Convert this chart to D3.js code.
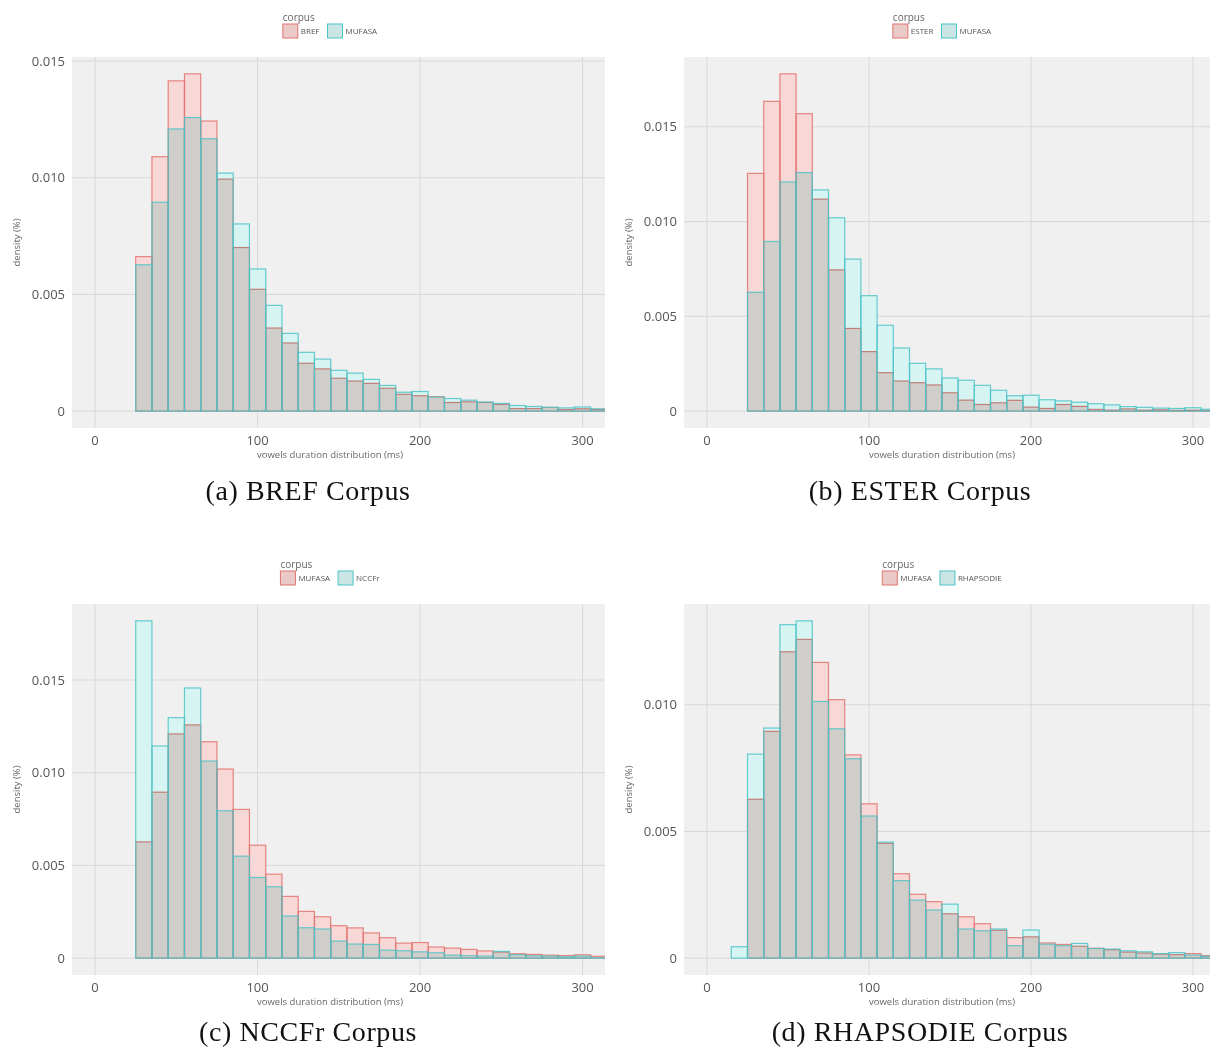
<!DOCTYPE html>
<html>
<head>
<meta charset="utf-8">
<script src="https://cdn.jsdelivr.net/npm/d3@7"></script>
<style>
  body { margin: 0; background: #fff; }
  svg text { font-family: "Open Sans", sans-serif; }
  .bar-fill { mix-blend-mode: multiply; }
</style>
</head>
<body>
<svg id="fig" width="1210" height="1053"></svg>
<script>
// histogram bins (ms), 10 ms wide
var binStarts = [15, 25, 35, 45, 55, 65, 75, 85, 95, 105, 115, 125, 135, 145, 155,
                 165, 175, 185, 195, 205, 215, 225, 235, 245, 255, 265, 275, 285, 295, 305];
var binWidth = 10;

// densities
var mufasa = [0, 0.00627, 0.00895, 0.01209, 0.01258, 0.01167, 0.0102, 0.00802, 0.00609, 0.00453,
              0.00333, 0.00252, 0.00223, 0.00175, 0.00163, 0.00136, 0.0011, 0.00081, 0.00084, 0.0006,
              0.00054, 0.00047, 0.00039, 0.00033, 0.00024, 0.0002, 0.00016, 0.00014, 0.00018, 0.0001];
var bref = [0, 0.00662, 0.0109, 0.01415, 0.01445, 0.01243, 0.00994, 0.00701, 0.00522, 0.00356,
            0.00292, 0.00205, 0.00181, 0.00141, 0.00129, 0.00119, 0.00098, 0.00072, 0.00066, 0.00062,
            0.00037, 0.0004, 0.00037, 0.00029, 0.00011, 0.00011, 0.00016, 0.00007, 0.0001, 0.00007];
var ester = [0, 0.01254, 0.01634, 0.01779, 0.01569, 0.01118, 0.00745, 0.00436, 0.00314, 0.00203,
             0.00159, 0.0015, 0.00138, 0.00097, 0.00058, 0.00035, 0.00044, 0.00057, 0.00021, 0.00014,
             0.00035, 0.00025, 0.00009, 0.00005, 0.00012, 0.00005, 0.00007, 0.00004, 0.00005, 0.00003];
var nccfr = [0, 0.01819, 0.01144, 0.01297, 0.01457, 0.01063, 0.00795, 0.0055, 0.00435, 0.00385,
             0.00227, 0.00164, 0.00157, 0.00092, 0.00076, 0.00074, 0.00043, 0.0004, 0.00034, 0.00029,
             0.00016, 0.00013, 0.00011, 0.00036, 0.00018, 0.00013, 0.00011, 0.00007, 0.00011, 0.00002];
var rhapsodie = [0.00045, 0.00805, 0.00908, 0.01316, 0.01331, 0.01013, 0.00905, 0.00787, 0.00561, 0.00458,
                 0.00306, 0.00229, 0.0019, 0.00213, 0.00115, 0.00108, 0.00115, 0.00049, 0.00111, 0.00055,
                 0.00049, 0.00058, 0.00038, 0.00036, 0.00029, 0.00025, 0.00018, 0.00022, 0.00012, 0.00007];

var xTicks = [0, 100, 200, 300];
var yTicks3 = [0, 0.005, 0.010, 0.015];
var yTicks2 = [0, 0.005, 0.010];

// fills are multiplied over the grey panel, so overlaps turn grey
var redFill = "rgb(248,216,214)", redStroke = "#E2736E";
var cyanFill = "rgb(214,244,242)", cyanStroke = "#4DC3C7";

var panels = [
  {ox: 0,   oy: 0,   right: 605, xMax: 313.8, caption: "(a) BREF Corpus",
   names: ["BREF", "MUFASA"], series: [bref, mufasa], yTicks: yTicks3, capY: 500},
  {ox: 612, oy: 0,   right: 598, xMax: 310.5, caption: "(b) ESTER Corpus",
   names: ["ESTER", "MUFASA"], series: [ester, mufasa], yTicks: yTicks3, capY: 500},
  {ox: 0,   oy: 547, right: 605, xMax: 313.8, caption: "(c) NCCFr Corpus",
   names: ["MUFASA", "NCCFr"], series: [mufasa, nccfr], yTicks: yTicks3, capY: 494},
  {ox: 612, oy: 547, right: 598, xMax: 310.5, caption: "(d) RHAPSODIE Corpus",
   names: ["MUFASA", "RHAPSODIE"], series: [mufasa, rhapsodie], yTicks: yTicks2, capY: 494}
];

var plotLeft = 72, plotTop = 57, plotBottom = 428;
var svg = d3.select("#fig");
var fmt = function(d) { return d === 0 ? "0" : d3.format(".3f")(d); };

panels.forEach(function(p, pi) {
  var g = svg.append("g").attr("transform", `translate(${p.ox}, ${p.oy})`);

  var x = d3.scaleLinear().domain([-14.2, p.xMax]).range([plotLeft, p.right]);
  // ggplot style 5% expansion around the data
  var yMax = d3.max(p.series, s => d3.max(s));
  var y = d3.scaleLinear().domain([-yMax * 0.05, yMax * 1.05]).range([plotBottom, plotTop]);

  // panel background + grid
  g.append("rect").attr("x", plotLeft).attr("y", plotTop)
    .attr("width", p.right - plotLeft).attr("height", plotBottom - plotTop)
    .attr("fill", "#f0f0f0");

  g.selectAll(".vgrid").data(xTicks).enter().append("line")
    .attr("x1", d => x(d)).attr("x2", d => x(d))
    .attr("y1", plotTop).attr("y2", plotBottom)
    .attr("stroke", "#d8d8d8").attr("stroke-width", 1);
  g.selectAll(".hgrid").data(p.yTicks).enter().append("line")
    .attr("x1", plotLeft).attr("x2", p.right)
    .attr("y1", d => y(d)).attr("y2", d => y(d))
    .attr("stroke", "#d8d8d8").attr("stroke-width", 1);

  // bars, clipped to the panel
  var clipId = "clip" + pi;
  g.append("clipPath").attr("id", clipId).append("rect")
    .attr("x", plotLeft).attr("y", plotTop)
    .attr("width", p.right - plotLeft).attr("height", plotBottom - plotTop);
  var barsG = g.append("g").attr("clip-path", `url(#${clipId})`);

  var fills = [redFill, cyanFill], strokes = [redStroke, cyanStroke];
  p.series.forEach(function(vals, si) {
    var bins = binStarts.map((b, i) => ({x0: b, v: vals[i]})).filter(d => d.v > 0);
    barsG.append("g").selectAll("rect").data(bins).enter().append("rect")
      .attr("class", "bar-fill")
      .attr("x", d => x(d.x0)).attr("width", d => x(d.x0 + binWidth) - x(d.x0))
      .attr("y", d => y(d.v)).attr("height", d => y(0) - y(d.v))
      .attr("fill", fills[si]);
    barsG.append("g").selectAll("rect").data(bins).enter().append("rect")
      .attr("x", d => x(d.x0)).attr("width", d => x(d.x0 + binWidth) - x(d.x0))
      .attr("y", d => y(d.v)).attr("height", d => y(0) - y(d.v))
      .attr("fill", "none").attr("stroke", strokes[si])
      .attr("stroke-opacity", 0.85).attr("stroke-width", 1.2);
  });

  // tick labels
  g.selectAll(".xt").data(xTicks).enter().append("text")
    .attr("x", d => x(d)).attr("y", plotBottom + 17)
    .attr("text-anchor", "middle").attr("font-size", 13).attr("fill", "#555")
    .text(d => d);
  g.selectAll(".yt").data(p.yTicks).enter().append("text")
    .attr("x", plotLeft - 7).attr("y", d => y(d)).attr("dy", "0.35em")
    .attr("text-anchor", "end").attr("font-size", 13).attr("fill", "#555")
    .text(fmt);

  // axis titles
  g.append("text").attr("x", 330).attr("y", plotBottom + 30)
    .attr("text-anchor", "middle").attr("font-size", 9.5).attr("fill", "#666")
    .text("vowels duration distribution (ms)");
  g.append("text").attr("transform", `translate(20, ${(plotTop + plotBottom) / 2}) rotate(-90)`)
    .attr("text-anchor", "middle").attr("font-size", 9.5).attr("fill", "#666")
    .text("density (%)");

  // legend, centred over the panel
  var leg = g.append("g");
  var cursor = 0;
  p.names.forEach(function(name, si) {
    leg.append("rect").attr("x", cursor).attr("y", 24).attr("width", 15).attr("height", 14)
      .attr("fill", si === 0 ? "rgb(233,202,200)" : "rgb(201,230,228)")
      .attr("stroke", strokes[si]).attr("stroke-width", 1);
    var t = leg.append("text").attr("x", cursor + 18).attr("y", 34)
      .attr("font-size", 8).attr("fill", "#555").text(name);
    cursor += 18 + t.node().getComputedTextLength() + 8;
  });
  leg.append("text").attr("x", 0).attr("y", 21)
    .attr("font-size", 10).attr("fill", "#666").text("corpus");
  var legW = cursor - 8;
  leg.attr("transform", `translate(${330 - legW / 2}, 0)`);

  // caption
  g.append("text").attr("x", 308).attr("y", p.capY)
    .attr("text-anchor", "middle")
    .style("font-family", "'Liberation Serif', serif")
    .attr("font-size", 28).attr("letter-spacing", 0.6).attr("fill", "#111")
    .text(p.caption);
});
</script>
</body>
</html>
